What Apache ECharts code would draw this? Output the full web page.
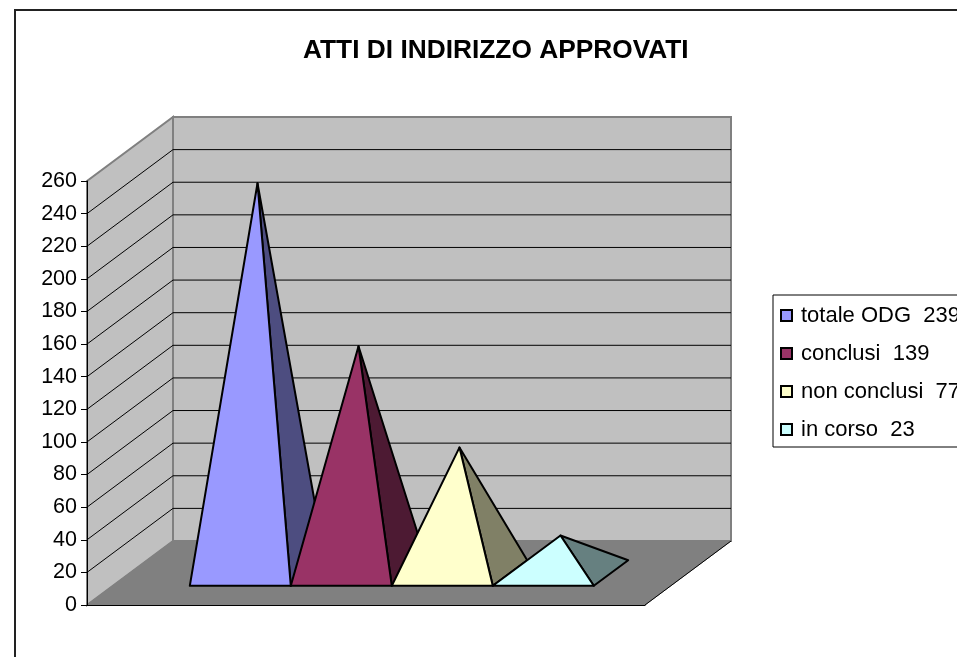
<!DOCTYPE html>
<html>
<head>
<meta charset="utf-8">
<style>
  html, body { margin: 0; padding: 0; background: #fff; overflow: hidden; }
  #chart { width: 957px; height: 657px; }
</style>
<script src="https://cdn.jsdelivr.net/npm/echarts@6/dist/echarts.min.js"></script>
</head>
<body>
<div id="chart"></div>
<script>
const categories = ['']
const seriesNames = ['totale ODG  239', 'conclusi  139', 'non conclusi  77', 'in corso  23']
const seriesValues = [239, 139, 77, 23]
const yTicks = [0, 20, 40, 60, 80, 100, 120, 140, 160, 180, 200, 220, 240, 260]

const frontColors = ['#9999ff', '#993366', '#ffffcc', '#ccffff']
const sideColors = ['#4d4d80', '#4d1a33', '#808066', '#668080']

// 3D 偏移：地板的进深方向
const depthX = 86
const depthY = -64
const pyramidWidth = 101
const fontFamily = 'Liberation Sans, Arial, sans-serif'

// 背景：侧墙、后墙、地板和网格线
const renderWalls = (params, api) => {
  const y0 = api.coord([0, 0])[1]
  const top = api.coord([0, 260])[1]
  const left = 87
  const right = 645
  const children = []
  const poly = (points, fill, stroke, lineWidth) => ({
    type: 'polygon',
    shape: { points },
    style: { fill, stroke, lineWidth }
  })
  children.push(poly([[left, y0], [left + depthX, y0 + depthY], [left + depthX, top + depthY], [left, top]], '#c0c0c0', '#808080', 2))
  children.push(poly([[left + depthX, y0 + depthY], [right + depthX, y0 + depthY], [right + depthX, top + depthY], [left + depthX, top + depthY]], '#c0c0c0', '#808080', 2))
  children.push(poly([[left, y0], [right, y0], [right + depthX, y0 + depthY], [left + depthX, y0 + depthY]], '#808080', '#808080', 1))
  children.push({
    type: 'line',
    shape: { x1: right, y1: y0, x2: right + depthX, y2: y0 + depthY },
    style: { stroke: '#000', lineWidth: 1 }
  })
  yTicks.forEach((tick) => {
    if (tick === 0 || tick === 260) return
    const y = api.coord([0, tick])[1]
    children.push({
      type: 'polyline',
      shape: { points: [[left, y], [left + depthX, y + depthY], [right + depthX, y + depthY]] },
      style: { stroke: '#000', lineWidth: 1, fill: 'none' }
    })
  })
  return { type: 'group', children }
}

// 金字塔：正面 + 右侧面
const renderPyramid = (index) => (params, api) => {
  const [cx, y0] = api.coord([0, 0])
  const apexY = api.coord([0, api.value(1)])[1]
  const xl = cx - pyramidWidth * 2 + index * pyramidWidth
  const xr = xl + pyramidWidth
  const frontL = [xl + depthX * 0.3, y0 + depthY * 0.3]
  const frontR = [xr + depthX * 0.3, y0 + depthY * 0.3]
  const backR = [xr + depthX * 0.7, y0 + depthY * 0.7]
  const apex = [(xl + xr) / 2 + depthX * 0.5, apexY + depthY * 0.5]
  const stroke = { stroke: '#000', lineWidth: 2, lineJoin: 'round' }
  return {
    type: 'group',
    children: [
      { type: 'polygon', shape: { points: [frontR, backR, apex] }, style: { fill: sideColors[index], ...stroke } },
      { type: 'polygon', shape: { points: [frontL, frontR, apex] }, style: { fill: frontColors[index], ...stroke } }
    ]
  }
}

const chart = echarts.init(document.getElementById('chart'))

const option = {
  animation: false,
  backgroundColor: '#fff',
  title: {
    text: 'ATTI DI INDIRIZZO APPROVATI',
    left: 303,
    top: 38,
    padding: 0,
    textStyle: { fontFamily, fontSize: 26.3, fontWeight: 'bold', color: '#000' }
  },
  legend: {
    left: 773,
    top: 295,
    orient: 'vertical',
    padding: [9, 30, 6, 7],
    itemGap: 15,
    itemWidth: 11,
    itemHeight: 11,
    align: 'left',
    icon: 'rect',
    borderColor: '#000',
    borderWidth: 1,
    backgroundColor: '#fff',
    selectedMode: false,
    itemStyle: { borderColor: '#000', borderWidth: 2 },
    textStyle: { fontFamily, fontSize: 22, color: '#000', padding: [0, 0, 0, 4], lineHeight: 23 },
    data: seriesNames
  },
  grid: { left: 87, right: 312, top: 181, bottom: 52 },
  xAxis: {
    type: 'category',
    data: categories,
    z: 10,
    axisLine: { lineStyle: { color: '#000', width: 1 } },
    axisTick: { show: false },
    axisLabel: { show: false }
  },
  yAxis: {
    type: 'value',
    min: 0,
    max: 260,
    interval: 20,
    z: 10,
    axisLine: { show: true, lineStyle: { color: '#000', width: 1 } },
    axisTick: { show: true, length: 6, lineStyle: { color: '#000', width: 1 } },
    axisLabel: { margin: 10, fontFamily, fontSize: 21.5, color: '#000' },
    splitLine: { show: false }
  },
  graphic: [{
    type: 'polyline',
    shape: { points: [[15, 657], [15, 10], [957, 10]] },
    style: { stroke: '#222', lineWidth: 2, fill: 'none' },
    silent: true
  }],
  series: [
    {
      name: 'walls',
      type: 'custom',
      coordinateSystem: 'cartesian2d',
      renderItem: renderWalls,
      data: [[0, 0]],
      silent: true
    },
    ...seriesNames.map((name, i) => ({
      name,
      type: 'custom',
      coordinateSystem: 'cartesian2d',
      renderItem: renderPyramid(i),
      itemStyle: { color: frontColors[i] },
      encode: { x: 0, y: 1 },
      data: [[0, seriesValues[i]]]
    }))
  ]
}

chart.setOption(option)
</script>
</body>
</html>
